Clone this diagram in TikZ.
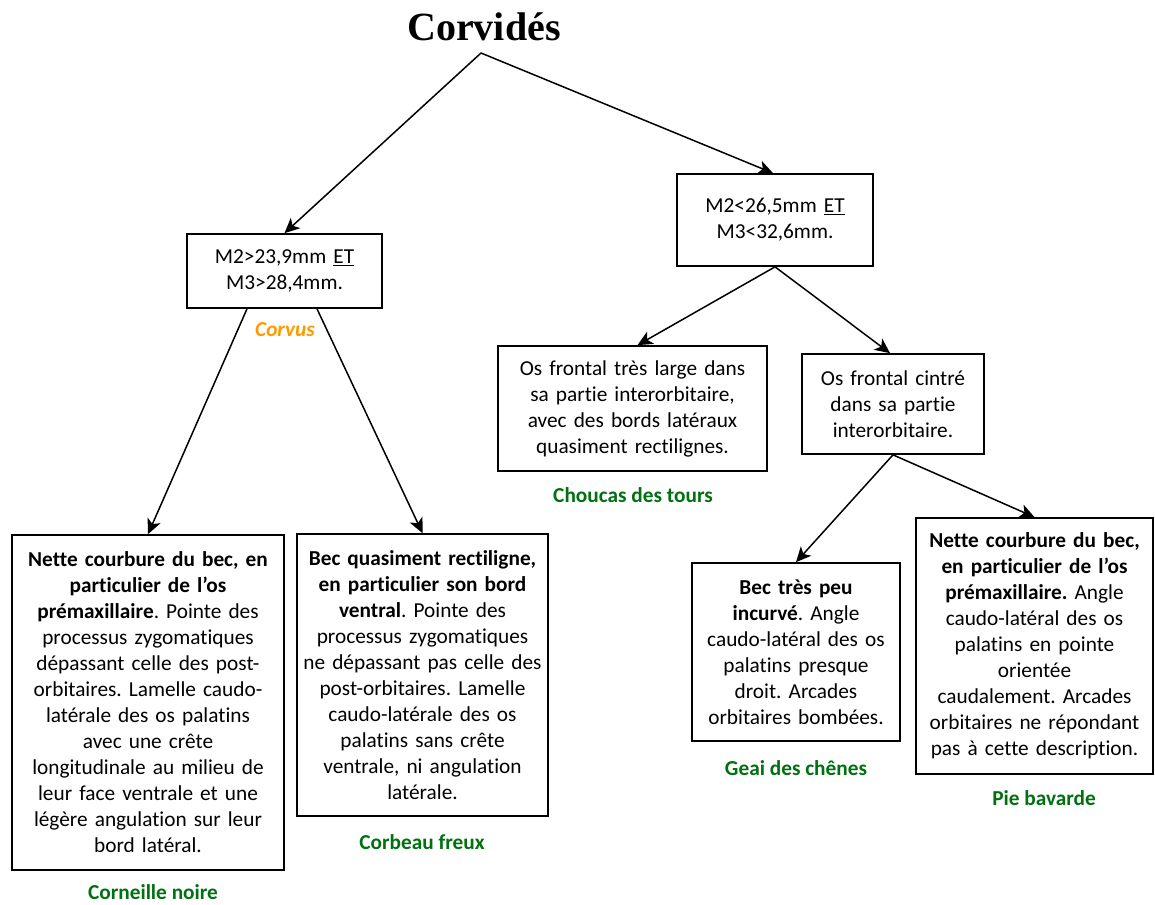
\documentclass[tikz,border=0pt]{standalone}
\usepackage{fontspec}
\setmainfont{Carlito}[Ligatures=NoCommon]
\newfontfamily\titrefont{Liberation Serif}
\usepackage{xcolor}
\usepackage{tikz}
\usetikzlibrary{arrows.meta,positioning}
\definecolor{vertnom}{RGB}{0,112,16}
\definecolor{orangenom}{RGB}{255,153,0}
\tikzstyle{boite} = [rectangle, draw, line width=1.7pt, inner sep=0pt, align=center, font=\fontsize{21.3}{26}\selectfont]
\tikzstyle{nom} = [inner sep=0pt, text=vertnom, font=\fontsize{21.3}{26}\selectfont\bfseries]
\tikzstyle{ligne} = [draw, line width=1.5pt, -{Stealth[length=15pt,width=14pt,inset=4pt]}]
\frenchspacing

\begin{document}
\begin{tikzpicture}[x=1pt, y=-1pt]
\useasboundingbox (0,0) rectangle (1155,904);
\node [font=\titrefont\fontsize{40}{44}\selectfont\bfseries] (titre) at (484,27) {Corvidés};
\coordinate (sommet) at (481,53);

\node [boite, text width=195pt, minimum height=74pt] (taille1) at (284.5,271) {M2>23,9mm \underline{ET}\\M3>28,4mm.};
\node [boite, text width=196pt, minimum height=92pt] (taille2) at (775,220) {M2<26,5mm \underline{ET}\\M3<32,6mm.};
\node [nom, text=orangenom, font=\fontsize{21.3}{26}\selectfont\bfseries\itshape] (corvus) at (285,330) {Corvus};

\node [boite, text width=269pt, minimum height=125pt] (frontal1) at (632.5,408.5) {Os frontal très large dans\\sa partie interorbitaire,\\avec des bords latéraux\\quasiment rectilignes.};
\node [boite, text width=182pt, minimum height=100pt] (frontal2) at (893,404) {Os frontal cintré\\dans sa partie\\interorbitaire.};

\node [boite, text width=272pt, minimum height=335pt] (corneille) at (148,702.5) {\textbf{Nette courbure du bec, en}\\\textbf{particulier de l’os}\\\textbf{prémaxillaire}. Pointe des\\processus zygomatiques\\dépassant celle des post-\\orbitaires. Lamelle caudo-\\latérale des os palatins\\avec une crête\\longitudinale au milieu de\\leur face ventrale et une\\légère angulation sur leur\\bord latéral.};
\node [boite, text width=251pt, minimum height=282pt] (corbeau) at (422.5,675) {\textbf{Bec quasiment rectiligne,}\\\textbf{en particulier son bord}\\\textbf{ventral}. Pointe des\\processus zygomatiques\\ne dépassant pas celle des\\post-orbitaires. Lamelle\\caudo-latérale des os\\palatins sans crête\\ventrale, ni angulation\\latérale.};
\node [boite, text width=208pt, minimum height=178pt] (geai) at (796,652) {\textbf{Bec très peu}\\\textbf{incurvé}. Angle\\caudo-latéral des os\\palatins presque\\droit. Arcades\\orbitaires bombées.};
\node [boite, text width=237pt, minimum height=256pt] (pie) at (1034.5,646) {\textbf{Nette courbure du bec,}\\\textbf{en particulier de l’os}\\\textbf{prémaxillaire.} Angle\\caudo-latéral des os\\palatins en pointe\\orientée\\caudalement. Arcades\\orbitaires ne répondant\\pas à cette description.};

\node [nom] (nomchoucas) at (633,495) {Choucas des tours};
\node [nom] (nomcorneille) at (153,892) {Corneille noire};
\node [nom] (nomcorbeau) at (422,842) {Corbeau freux};
\node [nom] (nomgeai) at (796,768) {Geai des chênes};
\node [nom] (nompie) at (1044,798) {Pie bavarde};

\path[ligne](sommet) -- (taille1.north);
\path[ligne](sommet) -- ([xshift=-2pt]taille2.north);
\path[ligne]([xshift=-37.5pt]taille1.south) -- (corneille.north);
\path[ligne]([xshift=32.5pt]taille1.south) -- (corbeau.north);
\path[ligne](taille2.south) -- ([xshift=5pt]frontal1.north);
\path[ligne](taille2.south) -- ([xshift=-3pt]frontal2.north);
\path[ligne](frontal2.south) -- (geai.north);
\path[ligne](frontal2.south) -- (pie.north);
\end{tikzpicture}
\end{document}
